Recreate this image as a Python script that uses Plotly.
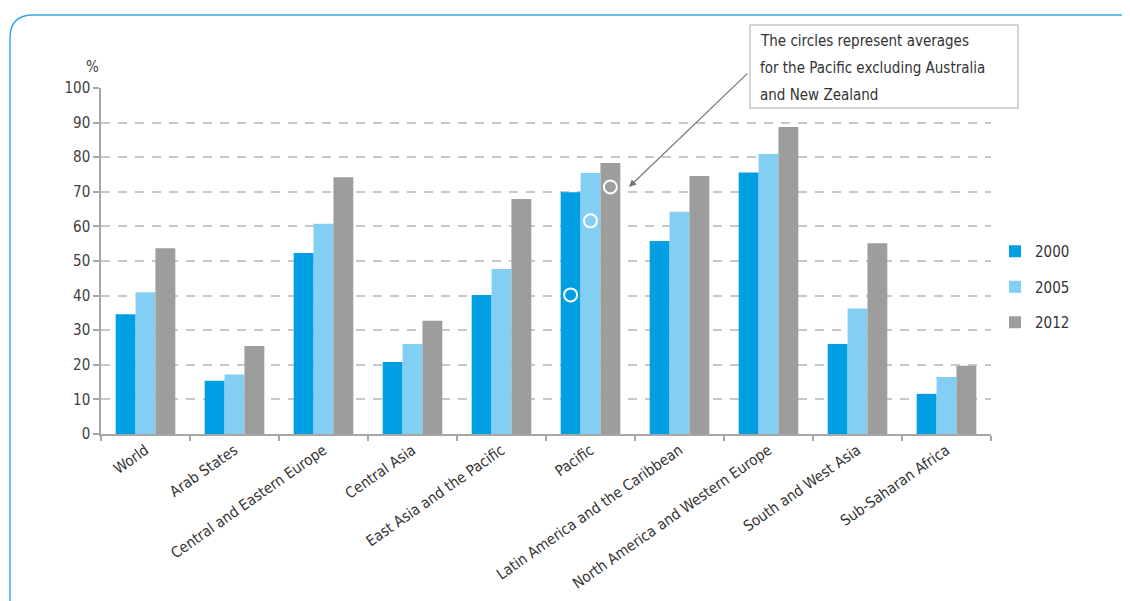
import plotly.graph_objects as go

categories = ["World", "Arab States", "Central and Eastern Europe", "Central Asia",
              "East Asia and the Pacific", "Pacific", "Latin America and the Caribbean",
              "North America and Western Europe", "South and West Asia", "Sub-Saharan Africa"]
years = ["2000", "2005", "2012"]
v2000 = [34.6, 15.4, 52.3, 20.8, 40.2, 69.9, 55.8, 75.6, 26.0, 11.6]
v2005 = [41.0, 17.2, 60.8, 26.0, 47.7, 75.4, 64.2, 80.9, 36.3, 16.5]
v2012 = [53.7, 25.4, 74.2, 32.7, 67.9, 78.3, 74.6, 88.7, 55.1, 19.7]
pacific_excl = [40.2, 61.6, 71.4]  # circles: Pacific excluding Australia and New Zealand
colors = ["#009FE3", "#83CFF4", "#9D9D9C"]

FONT = "DejaVu Sans Condensed, Roboto, sans-serif"
FS = 15
OFF = 8
W, H = 1130 - OFF, 601 - OFF
L, R, T, B = 101 - OFF, 139, 88 - OFF, 167
PW, PH = W - L - R, H - T - B
BARGAP = 0.33

def px(xp):
    return (xp - 101) / PW

def py(yp):
    return (434 - yp) / PH

def fnt(color="#333333", size=FS):
    return dict(family=FONT, size=size, color=color)

fig = go.Figure()
for yr, vals, col in zip(years, [v2000, v2005, v2012], colors):
    fig.add_trace(go.Bar(x=categories, y=vals, name=yr, marker_color=col,
                         marker_line_width=0, legendgroup=yr))

pi = categories.index("Pacific")
bw = (1 - BARGAP) / len(years)
cx = [pi + (i - (len(years) - 1) / 2) * bw for i in range(len(years))]
fig.add_trace(go.Scatter(x=cx, y=pacific_excl, xaxis="x2", mode="markers",
                         marker=dict(symbol="circle-open", size=13, color="white",
                                     line=dict(width=2, color="white")),
                         showlegend=False, hoverinfo="skip"))

shapes = [
    dict(type="path", xref="paper", yref="paper",
         path=(f"M {px(10)},{py(610)} L {px(10)},{py(38)} "
               f"Q {px(10)},{py(15)} {px(33)},{py(15)} L {px(1135)},{py(15)}"),
         line=dict(color="#3AA9E0", width=1.5)),
    dict(type="rect", xref="paper", yref="paper",
         x0=px(750), x1=px(1018), y0=py(108), y1=py(25),
         line=dict(color="#C8C8C8", width=1.5), fillcolor="white"),
]

notes = ["The circles represent averages", "for the Pacific excluding Australia", "and New Zealand"]
annotations = [dict(text=t, xref="paper", yref="paper", x=px(758), y=py(41 + 27 * i),
                    xanchor="left", yanchor="middle", showarrow=False, font=fnt())
               for i, t in enumerate(notes)]
annotations.append(dict(text="", xref="paper", yref="paper", x=px(629), y=py(187),
                        ax=120, ay=-115, showarrow=True, arrowhead=2, arrowsize=1.2,
                        arrowwidth=1.2, arrowcolor="#777777", standoff=0))
annotations.append(dict(text="%", xref="paper", yref="paper", x=px(84), y=py(56),
                        showarrow=False, font=fnt("#404040")))

fig.update_layout(
    width=W, height=H, margin=dict(l=L, r=R, t=T, b=B, autoexpand=False),
    barmode="group", bargap=BARGAP, bargroupgap=0,
    plot_bgcolor="white", paper_bgcolor="white",
    font=fnt("#404040"),
    showlegend=True,
    legend=dict(x=px(995), y=py(287), xanchor="left", yanchor="middle",
                traceorder="grouped", tracegroupgap=13, itemwidth=30, font=fnt()),
    xaxis=dict(type="category", range=[-0.5, 9.5], tickangle=-35, tickson="boundaries",
               ticks="outside", ticklen=5, tickcolor="#A6A6A6", tickwidth=1.5,
               showline=True, linecolor="#A6A6A6", linewidth=1.5, showgrid=False,
               automargin=False, tickfont=fnt()),
    xaxis2=dict(overlaying="x", range=[-0.5, 9.5], visible=False),
    yaxis=dict(range=[0, 100], dtick=10, ticks="outside", ticklen=6, tickcolor="#A6A6A6",
               tickwidth=1.5, showline=True, linecolor="#A6A6A6", linewidth=1.5,
               showgrid=True, gridcolor="#C8C8C8", griddash="9px,8px", gridwidth=1.5,
               zeroline=False, automargin=False, tickfont=fnt("#404040")),
    shapes=shapes, annotations=annotations,
)
fig.write_html("out.html")
